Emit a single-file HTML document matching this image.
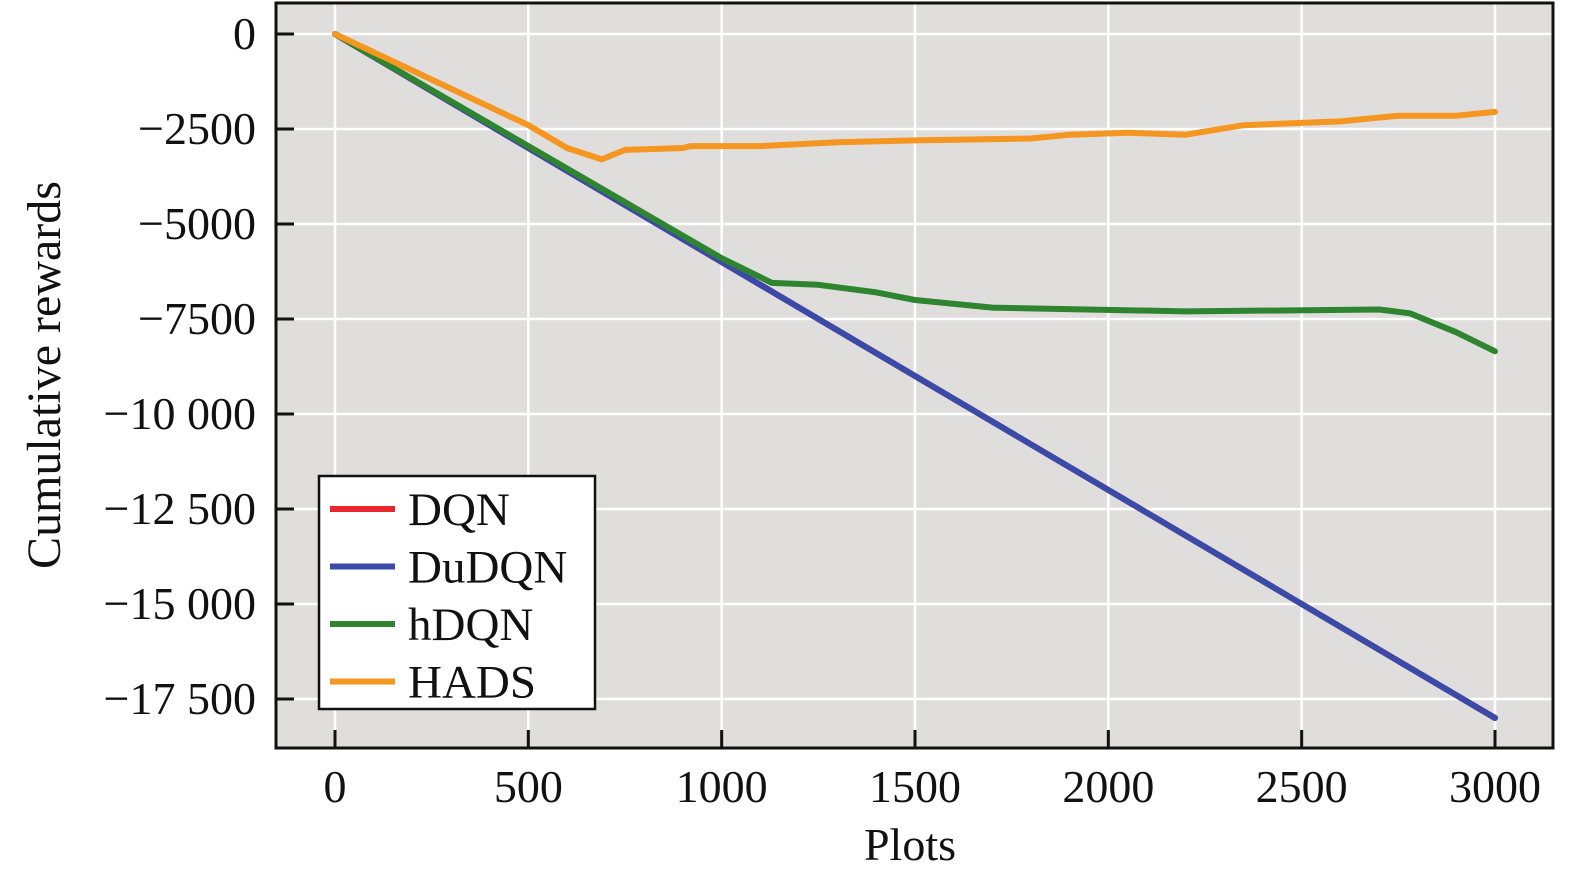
<!DOCTYPE html>
<html><head><meta charset="utf-8"><style>
body{margin:0;background:#fff;}
svg text{font-family:"Liberation Serif",serif;fill:#111;}
</style></head><body>
<svg width="1575" height="880" xmlns="http://www.w3.org/2000/svg">
<g id="g"></g>
</svg>
<script>
const xTicks=[0,500,1000,1500,2000,2500,3000];
const yTicks=[0,-2500,-5000,-7500,-10000,-12500,-15000,-17500];
const yTickLabels=["0","\u22122500","\u22125000","\u22127500","\u221210 000","\u221212 500","\u221215 000","\u221217 500"];
const seriesNames=["DQN","DuDQN","hDQN","HADS"];
const seriesColors=["#e8262e","#3a4aa8","#2f842f","#f4961f"];
const dqnX=[0,3000];const dqnY=[0,-18000];
const dudqnX=[0,3000];const dudqnY=[0,-18000];
const hdqnX=[0,500,1000,1130,1250,1400,1500,1700,2200,2700,2780,2900,3000];
const hdqnY=[0,-2950,-5900,-6550,-6600,-6800,-7000,-7200,-7300,-7250,-7350,-7850,-8350];
const hadsX=[0,500,600,690,750,900,920,1100,1300,1500,1800,1900,2050,2200,2350,2600,2750,2900,3000];
const hadsY=[0,-2400,-3000,-3300,-3050,-3000,-2950,-2950,-2850,-2800,-2750,-2650,-2600,-2650,-2400,-2300,-2150,-2150,-2050];
const L=276,R=1553,T=3,B=748;
const xs=v=>335+v*(1495-335)/3000;
const ys=v=>34+(-v)*(665/17500);
const g=document.getElementById('g');const NS='http://www.w3.org/2000/svg';
function el(t,a,p){const e=document.createElementNS(NS,t);for(const k in a)e.setAttribute(k,a[k]);(p||g).appendChild(e);return e;}
let bg=el('rect',{x:L,y:T,width:R-L,height:B-T,fill:'#dfdedd'});

xTicks.forEach(v=>{let x=xs(v);
 let l=el('line',{x1:x,x2:x,y1:T,y2:B,stroke:'#fff','stroke-width':2.5});
 let t=el('line',{x1:x,x2:x,y1:B-18,y2:B,stroke:'#111','stroke-width':3});
 let tx=el('text',{x:x,y:802,'font-size':46,'text-anchor':'middle'});tx.textContent=v;});
yTicks.forEach((v,i)=>{let y=ys(v);
 let l=el('line',{x1:L,x2:R,y1:y,y2:y,stroke:'#fff','stroke-width':2.5});
 let t=el('line',{x1:L,x2:L+18,y1:y,y2:y,stroke:'#111','stroke-width':3});
 let tx=el('text',{x:256,y:y+15,'font-size':46,'text-anchor':'end'});tx.textContent=yTickLabels[i];});
const data=[[dqnX,dqnY],[dudqnX,dudqnY],[hdqnX,hdqnY],[hadsX,hadsY]];
[0,1,2,3].forEach(i=>{const [X,Y]=data[i];
 let p=el('polyline',{points:X.map((x,j)=>xs(x)+','+ys(Y[j])).join(' '),fill:'none',stroke:seriesColors[i],'stroke-width':6,'stroke-linejoin':'round','stroke-linecap':'round'});
 });
let fr=el('rect',{x:L,y:T,width:R-L,height:B-T,fill:'none',stroke:'#111','stroke-width':3});

let lg=el('g',{});
el('rect',{x:319,y:476,width:276,height:233,fill:'#fff',stroke:'#111','stroke-width':2.5},lg);
seriesNames.forEach((n,i)=>{let y=509+i*57.5;
 let ln=el('line',{x1:330,x2:395,y1:y,y2:y,stroke:seriesColors[i],'stroke-width':6},lg);
 let t=el('text',{x:408,y:y+16,'font-size':47},lg);t.textContent=n;});
let xt=el('text',{x:910,y:860,'font-size':46,'text-anchor':'middle'});xt.textContent='Plots';
let yt=el('text',{x:0,y:0,'font-size':48,'text-anchor':'middle',transform:'translate(60,375) rotate(-90)'});yt.textContent='Cumulative rewards';
</script>
</body></html>
